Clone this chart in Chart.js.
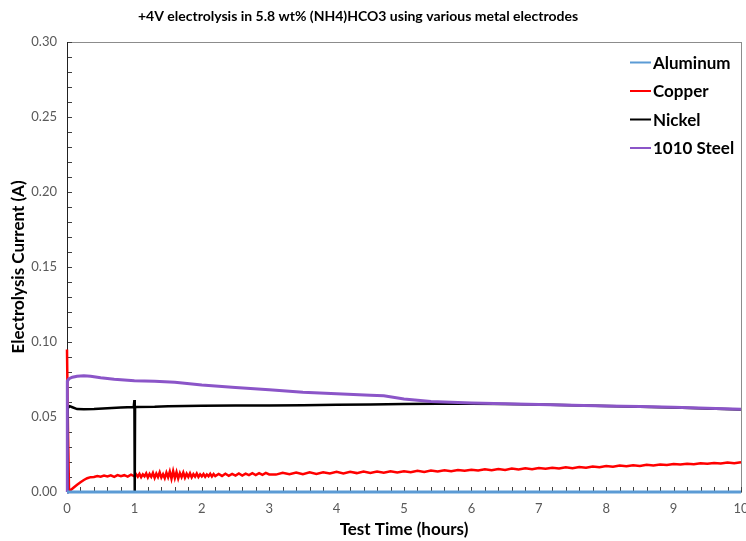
<!DOCTYPE html>
<html>
<head>
<meta charset="utf-8">
<script src="https://cdn.jsdelivr.net/npm/chart.js@4.4.1/dist/chart.umd.min.js"></script>
<style>
html,body{margin:0;padding:0;background:#fff;}
#wrap{width:746px;height:541px;position:relative;}
</style>
</head>
<body>
<div id="wrap"><canvas id="c" width="746" height="541"></canvas></div>
<script>
// ---- data ----
const chartTitle = '+4V electrolysis in 5.8 wt% (NH4)HCO3 using various metal electrodes';
const seriesNames = ['Aluminum', 'Copper', 'Nickel', '1010 Steel'];
const xTicks = [0,1,2,3,4,5,6,7,8,9,10];
const yTicks = [0,0.05,0.10,0.15,0.20,0.25,0.30];

const aluminumTime = [0, 10];
const aluminumCurrent = [0, 0];

// [time (h), current (A)]
const copperReadings = [
 [0,0.095],[0.015,0.04],[0.03,0.0015],[0.06,0.0015],[0.1,0.003],[0.15,0.0048],[0.2,0.0065],[0.25,0.008],[0.3,0.0092],[0.35,0.0099],
 [0.40,0.0100],[0.45,0.0107],[0.50,0.0102],[0.55,0.0109],[0.60,0.0104],[0.65,0.0111],[0.70,0.0101],[0.75,0.0113],[0.80,0.0105],[0.85,0.0112],[0.90,0.0103],[0.95,0.0116],[1.00,0.0105],
 [1.025,0.0118],[1.050,0.0102],[1.075,0.0121],[1.100,0.0099],[1.125,0.0117],[1.150,0.0104],[1.175,0.0124],[1.200,0.0097],[1.225,0.0120],[1.250,0.0101],
 [1.275,0.0127],[1.300,0.0094],[1.325,0.0123],[1.350,0.0100],[1.375,0.0131],[1.400,0.0096],[1.425,0.0118],[1.450,0.0092],[1.475,0.0129],[1.500,0.0098],
 [1.525,0.0136],[1.550,0.0089],[1.575,0.0140],[1.600,0.0093],[1.625,0.0133],[1.650,0.0090],[1.675,0.0126],[1.700,0.0099],[1.725,0.0130],[1.750,0.0095],
 [1.775,0.0122],[1.800,0.0101],[1.825,0.0125],[1.850,0.0098],[1.875,0.0119],[1.900,0.0103],[1.925,0.0123],[1.950,0.0100],[1.975,0.0118],[2.000,0.0104],
 [2.025,0.0120],[2.050,0.0102],[2.075,0.0117],[2.100,0.0105],[2.125,0.0121],[2.150,0.0103],[2.175,0.0119],[2.200,0.0106],
 [2.25,0.0120],[2.30,0.0107],[2.35,0.0122],[2.40,0.0108],[2.45,0.0121],[2.50,0.0109],[2.55,0.0124],[2.60,0.0110],[2.65,0.0123],[2.70,0.0112],[2.75,0.0125],[2.80,0.0113],[2.85,0.0126],[2.90,0.0114],[2.95,0.0127],[3.00,0.0117],
 [3.1,0.0116],[3.2,0.0128],[3.3,0.0118],[3.4,0.0129],[3.5,0.0119],[3.6,0.0131],[3.7,0.0121],[3.8,0.0132],[3.9,0.0123],[4.0,0.0134],
 [4.1,0.0124],[4.2,0.0135],[4.3,0.0126],[4.4,0.0137],[4.5,0.0127],[4.6,0.0136],[4.7,0.0128],[4.8,0.0138],[4.9,0.0130],[5.0,0.0139],
 [5.1,0.0132],[5.2,0.0141],[5.3,0.0134],[5.4,0.0143],[5.5,0.0136],[5.6,0.0145],[5.7,0.0138],[5.8,0.0147],[5.9,0.0141],[6.0,0.0149],
 [6.1,0.0143],[6.2,0.0151],[6.3,0.0145],[6.4,0.0153],[6.5,0.0147],[6.6,0.0156],[6.7,0.0150],[6.8,0.0158],[6.9,0.0152],[7.0,0.0160],
 [7.1,0.0155],[7.2,0.0162],[7.3,0.0157],[7.4,0.0165],[7.5,0.0159],[7.6,0.0167],[7.7,0.0162],[7.8,0.0170],[7.9,0.0165],[8.0,0.0173],
 [8.1,0.0168],[8.2,0.0176],[8.3,0.0171],[8.4,0.0178],[8.5,0.0174],[8.6,0.0181],[8.7,0.0177],[8.8,0.0184],[8.9,0.0180],[9.0,0.0187],
 [9.1,0.0183],[9.2,0.0189],[9.3,0.0185],[9.4,0.0191],[9.5,0.0188],[9.6,0.0194],[9.7,0.0190],[9.8,0.0196],[9.9,0.0192],[10.0,0.0198]
];

const nickelTime = [0,0.01,0.04,0.08,0.15,0.25,0.4,0.6,0.8,0.99,1.0,1.005,1.01,1.3,1.5,2.0,2.5,3.0,3.5,4.0,4.5,5.0,5.5,6.0,6.5,7.0,7.5,8.0,8.5,9.0,9.5,10.0];
const nickelCurrent = [0,0.056,0.0572,0.0565,0.0553,0.0551,0.0553,0.0558,0.0563,0.0567,0.0613,0,0.0567,0.0568,0.0571,0.0575,0.0576,0.0577,0.0578,0.0581,0.0584,0.0586,0.0588,0.0589,0.0586,0.0583,0.0579,0.0573,0.0568,0.0563,0.0557,0.0550];

const steelTime = [0,0.005,0.03,0.08,0.15,0.25,0.35,0.5,0.7,0.9,1.0,1.3,1.6,2.0,2.5,3.0,3.5,4.0,4.5,4.7,5.0,5.4,6.0,6.5,7.0,7.5,8.0,8.5,9.0,9.5,10.0];
const steelCurrent = [0,0.074,0.0755,0.0765,0.0772,0.0775,0.0772,0.0762,0.0752,0.0745,0.0742,0.0738,0.0732,0.0713,0.0697,0.0681,0.0665,0.0655,0.0645,0.0641,0.0620,0.0603,0.0593,0.0588,0.0583,0.0579,0.0574,0.0570,0.0565,0.0558,0.0552];

const seriesColors = ['#5B9BD5', '#FF0000', '#000000', '#8B55C8'];
const seriesWidths = [3, 2.5, 2.5, 3];

function pts(t, v){ return t.map((x,i)=>({x:x, y:v[i]})); }
const seriesData = [
  pts(aluminumTime, aluminumCurrent),
  copperReadings.map(r => ({x:r[0], y:r[1]})),
  pts(nickelTime, nickelCurrent),
  pts(steelTime, steelCurrent)
];

const FONT = 'Lato, "Open Sans", sans-serif';

const frameAndTicks = {
  id: 'frameAndTicks',
  beforeDatasetsDraw(chart){
    const {ctx, chartArea:a} = chart;
    ctx.save();
    ctx.strokeStyle = '#8c8c8c';
    ctx.lineWidth = 1;
    ctx.strokeRect(a.left + 0.5, a.top + 0.5, a.right - a.left, a.bottom - a.top);
    ctx.strokeStyle = '#404040';
    const ys = chart.scales.y, xs = chart.scales.x;
    ctx.beginPath();
    for (let k = 0; k <= 30; k++) {
      const py = Math.round(ys.getPixelForValue(k / 100)) + 0.5;
      ctx.moveTo(a.left, py); ctx.lineTo(a.left + 5, py);
    }
    for (let k = 0; k <= 50; k++) {
      const px = Math.round(xs.getPixelForValue(k / 5)) + 0.5;
      ctx.moveTo(px, a.bottom); ctx.lineTo(px, a.bottom - 5);
    }
    ctx.stroke();
    ctx.strokeStyle = '#222';
    ctx.beginPath();
    ctx.moveTo(a.left + 0.5, a.top); ctx.lineTo(a.left + 0.5, a.bottom);
    ctx.stroke();
    ctx.restore();
  },
  afterDraw(chart){
    const {ctx, chartArea:a} = chart;
    ctx.save();
    // title
    ctx.font = 'bold 14px ' + FONT;
    ctx.fillStyle = '#000';
    ctx.textAlign = 'center';
    ctx.textBaseline = 'middle';
    ctx.fillText(chartTitle, 358, 16);
    // legend
    ctx.font = 'bold 17px ' + FONT;
    ctx.textAlign = 'left';
    chart.data.datasets.forEach((ds, i) => {
      const y = a.top + 20.5 + i * 28.5;
      ctx.strokeStyle = ds.borderColor;
      ctx.lineWidth = 2;
      ctx.beginPath();
      ctx.moveTo(a.right - 111, y); ctx.lineTo(a.right - 90, y);
      ctx.stroke();
      ctx.fillStyle = '#000';
      ctx.fillText(ds.label, a.right - 88, y + 1);
    });
    ctx.restore();
  }
};

new Chart(document.getElementById('c'), {
  type: 'line',
  data: {
    datasets: seriesNames.map((n, i) => ({
      label: n,
      data: seriesData[i],
      borderColor: seriesColors[i],
      backgroundColor: seriesColors[i],
      borderWidth: seriesWidths[i],
      pointRadius: 0,
      tension: 0,
      fill: false,
      clip: 6,
      order: i === 0 ? -1 : 4 - i
    }))
  },
  plugins: [frameAndTicks],
  options: {
    responsive: false,
    animation: false,
    layout: { padding: { left: 0, right: 5, top: 42, bottom: 0 } },
    plugins: {
      legend: { display: false },
      tooltip: { enabled: false },
      title: { display: false }
    },
    scales: {
      x: {
        type: 'linear',
        min: 0, max: 10,
        afterBuildTicks(s){ s.ticks = xTicks.map(v => ({value: v})); },
        ticks: { color: '#595959', font: { family: FONT, size: 13 }, padding: 9, maxRotation: 0 },
        grid: { display: false, drawTicks: false },
        border: { display: false },
        title: { display: true, text: 'Test Time (hours)', color: '#000', font: { family: FONT, size: 17, weight: 'bold' }, padding: { top: 4, bottom: 1 } },
        afterFit(s){ s.height = 49; s.paddingLeft = 0; s.paddingRight = 0; }
      },
      y: {
        type: 'linear',
        min: 0, max: 0.3,
        afterBuildTicks(s){ s.ticks = yTicks.map(v => ({value: v})); },
        ticks: { color: '#595959', font: { family: FONT, size: 13 }, padding: 10, callback: v => v.toFixed(2) },
        grid: { display: false, drawTicks: false },
        border: { display: false },
        title: { display: true, text: 'Electrolysis Current (A)', color: '#000', font: { family: FONT, size: 17, weight: 'bold' }, padding: { top: 8, bottom: 4 } },
        afterFit(s){ s.width = 67; s.paddingTop = 0; s.paddingBottom = 0; }
      }
    }
  }
});
</script>
</body>
</html>
